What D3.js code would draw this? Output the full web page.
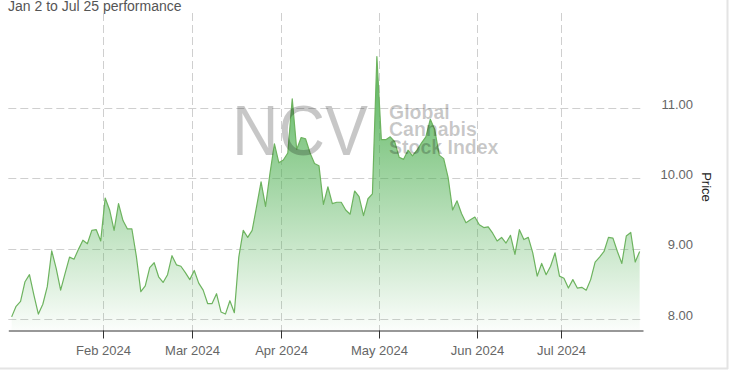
<!DOCTYPE html>
<html>
<head>
<meta charset="utf-8">
<script src="https://cdn.jsdelivr.net/npm/d3@7"></script>
<style>
  html, body { margin: 0; padding: 0; background: #fff; }
  svg { display: block; font-family: "Liberation Sans", Arial, sans-serif; }
</style>
</head>
<body>
<svg id="chart" width="731" height="371"></svg>
<script>
// ---- data ----
const title = "Jan 2 to Jul 25 performance";
const firstDay = "2024-01-02";
const lastDay = "2024-07-25";
// market closed on these weekdays
const holidays = ["2024-01-15", "2024-02-19", "2024-03-29", "2024-05-27", "2024-06-19", "2024-07-04"];

// daily close, one per trading day
const prices = [
  8.03, 8.18, 8.25, 8.53, 8.63, 8.34, 8.07, 8.21, 8.46, 8.97,
  8.72, 8.41, 8.65, 8.88, 8.85, 8.99, 9.12, 9.07, 9.26, 9.27,
  9.11, 9.72, 9.55, 9.26, 9.64, 9.40, 9.28, 9.28, 8.89, 8.39,
  8.47, 8.73, 8.80, 8.60, 8.52, 8.63, 8.90, 8.77, 8.75, 8.66,
  8.56, 8.69, 8.51, 8.41, 8.22, 8.22, 8.36, 8.10, 8.07, 8.26,
  8.09, 8.88, 9.26, 9.16, 9.26, 9.60, 9.95, 9.60, 10.07, 10.49,
  10.22, 10.26, 10.36, 11.13, 10.41, 10.58, 10.56, 10.36, 10.21, 10.18,
  9.63, 9.88, 9.64, 9.66, 9.66, 9.55, 9.49, 9.82, 9.74, 9.47,
  9.71, 9.78, 11.73, 10.55, 10.55, 10.59, 10.52, 10.30, 10.27, 10.40,
  10.32, 10.40, 10.50, 10.59, 10.84, 10.69, 10.33, 10.28, 10.01, 9.55,
  9.68, 9.50, 9.37, 9.41, 9.45, 9.34, 9.30, 9.31, 9.22, 9.11,
  9.16, 9.08, 9.19, 8.92, 9.27, 9.13, 9.16, 8.94, 8.61, 8.79,
  8.63, 8.75, 8.94, 8.61, 8.58, 8.44, 8.56, 8.44, 8.45, 8.41,
  8.56, 8.81, 8.88, 8.96, 9.16, 9.15, 8.96, 8.79, 9.18, 9.23,
  8.81, 8.96
];

const yTicks = [8, 9, 10, 11];
const yTitle = "Price";
const watermarkBig = "NCV";
const watermarkLines = ["Global", "Cannabis", "Stock Index"];

// ---- trading calendar ----
const parse = d3.timeParse("%Y-%m-%d");
const fmtKey = d3.timeFormat("%Y-%m-%d");
const closed = new Set(holidays);
const dates = d3.timeDay.range(parse(firstDay), d3.timeDay.offset(parse(lastDay), 1))
  .filter(d => d.getDay() !== 0 && d.getDay() !== 6 && !closed.has(fmtKey(d)));

const data = dates.map((d, i) => ({ i, date: d, value: prices[i] }));

// month ticks sit a little before the first session of the month
const monthTicks = [];
dates.forEach((d, i) => {
  if (i > 0 && d.getMonth() !== dates[i - 1].getMonth()) {
    monthTicks.push({ pos: i - 0.6, label: d3.timeFormat("%b %Y")(d) });
  }
});

// ---- layout ----
const svg = d3.select("#chart");
const plotLeft = 8.3, plotRight = 643, plotTop = 13, plotBottom = 330.5;

const x = d3.scaleLinear()
  .domain([-0.75, data.length - 1 + 0.75])
  .range([plotLeft, plotRight]);

const y = d3.scaleLinear()
  .domain([8, 11])
  .range([319, 108]);

svg.append("rect").attr("width", 731).attr("height", 371).attr("fill", "#fff");

// card edges
svg.append("line").attr("x1", 727.5).attr("x2", 727.5).attr("y1", 0).attr("y2", 369)
  .attr("stroke", "#e4e4e4").attr("stroke-width", 2);
svg.append("line").attr("x1", 0).attr("x2", 728).attr("y1", 368.5).attr("y2", 368.5)
  .attr("stroke", "#e4e4e4").attr("stroke-width", 2);

// title
svg.append("text")
  .attr("x", 8).attr("y", 11)
  .attr("font-size", 14).attr("fill", "#555")
  .text(title);

// grid
const grid = svg.append("g").attr("stroke", "#cfcfcf").attr("stroke-dasharray", "8,4");
grid.selectAll(".hg").data(yTicks).join("line")
  .attr("x1", plotLeft).attr("x2", plotRight)
  .attr("y1", d => Math.round(y(d)) + 0.5).attr("y2", d => Math.round(y(d)) + 0.5);
grid.selectAll(".vg").data(monthTicks).join("line")
  .attr("x1", d => Math.round(x(d.pos)) + 0.5).attr("x2", d => Math.round(x(d.pos)) + 0.5)
  .attr("y1", plotTop).attr("y2", plotBottom);

// area + line
const defs = svg.append("defs");
const grad = defs.append("linearGradient")
  .attr("id", "fillGrad").attr("x1", 0).attr("y1", 0).attr("x2", 0).attr("y2", 1);
grad.append("stop").attr("offset", 0).attr("stop-color", "rgb(76,175,80)").attr("stop-opacity", 0.95);
grad.append("stop").attr("offset", 1).attr("stop-color", "rgb(76,175,80)").attr("stop-opacity", 0.02);

const area = d3.area()
  .x(d => x(d.i))
  .y0(plotBottom)
  .y1(d => y(d.value));

const line = d3.line()
  .x(d => x(d.i))
  .y(d => y(d.value));

svg.append("path").datum(data)
  .attr("d", area)
  .attr("fill", "url(#fillGrad)");

svg.append("path").datum(data)
  .attr("d", line)
  .attr("fill", "none")
  .attr("stroke", "#6db35f")
  .attr("stroke-width", 1.2)
  .attr("stroke-linejoin", "round");

// watermark, laid over the chart
const wm = svg.append("g").attr("fill", "#000").attr("fill-opacity", 0.22);
wm.append("text")
  .attr("x", 232).attr("y", 155)
  .attr("font-size", 71)
  .attr("textLength", 136).attr("lengthAdjust", "spacingAndGlyphs")
  .text(watermarkBig);
wm.selectAll(".wl").data(watermarkLines).join("text")
  .attr("x", 389)
  .attr("y", (d, i) => 118.5 + i * 17.5)
  .attr("font-size", 19.5)
  .attr("font-weight", "bold")
  .text(d => d);

// x axis
const xAxis = d3.axisBottom(x)
  .tickValues(monthTicks.map(d => d.pos))
  .tickFormat((d, i) => monthTicks[i].label)
  .tickSize(8)
  .tickSizeOuter(0)
  .tickPadding(7);

const gx = svg.append("g")
  .attr("transform", `translate(0,${plotBottom})`)
  .call(xAxis);
gx.select(".domain").attr("stroke", "#333");
gx.selectAll(".tick line").attr("stroke", "#333");
gx.selectAll(".tick").attr("transform", d => `translate(${Math.round(x(d)) + 0.5},0)`);
gx.selectAll(".tick text")
  .attr("fill", "#666")
  .attr("font-size", 13)
  .attr("font-family", "Liberation Sans, Arial, sans-serif");

// y axis labels on the right
const yAxis = d3.axisRight(y).tickValues(yTicks).tickFormat(d3.format(".2f")).tickSize(0).tickPadding(0);
const gy = svg.append("g").attr("transform", "translate(693,0)").call(yAxis);
gy.select(".domain").remove();
gy.selectAll(".tick text")
  .attr("text-anchor", "end")
  .attr("dy", "0")
  .attr("x", 0)
  .attr("fill", "#666")
  .attr("font-size", 13)
  .attr("font-family", "Liberation Sans, Arial, sans-serif");

// y axis title
svg.append("text")
  .attr("transform", "translate(702,187) rotate(90)")
  .attr("text-anchor", "middle")
  .attr("font-size", 13)
  .attr("fill", "#222")
  .text(yTitle);
</script>
</body>
</html>
